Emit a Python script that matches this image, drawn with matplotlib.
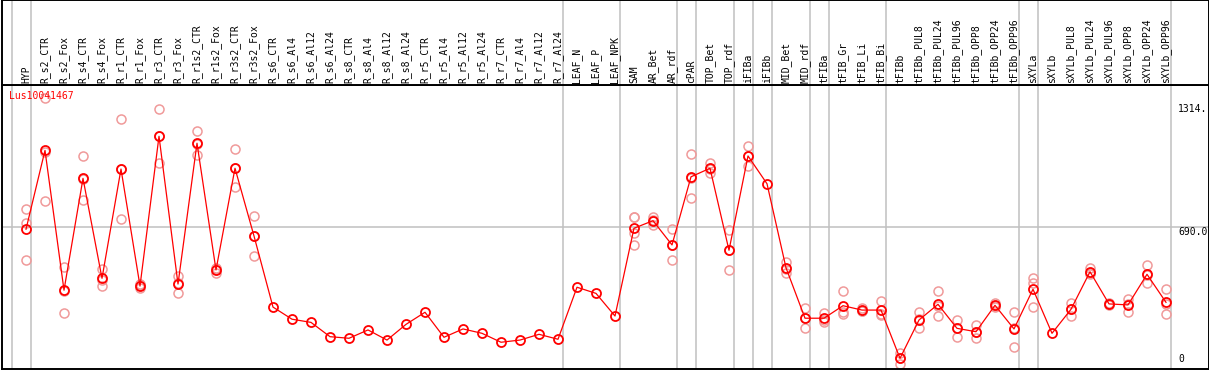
import matplotlib

matplotlib.use("Agg")
import matplotlib.pyplot as plt

gene_id = "Lus10041467"

sample_labels = [
    "HYP", "R_s2_CTR", "R_s2_Fox", "R_s4_CTR", "R_s4_Fox", "R_r1_CTR", "R_r1_Fox",
    "R_r3_CTR", "R_r3_Fox", "R_r1s2_CTR", "R_r1s2_Fox", "R_r3s2_CTR", "R_r3s2_Fox",
    "R_s6_CTR", "R_s6_Al4", "R_s6_Al12", "R_s6_Al24", "R_s8_CTR", "R_s8_Al4",
    "R_s8_Al12", "R_s8_Al24", "R_r5_CTR", "R_r5_Al4", "R_r5_Al12", "R_r5_Al24",
    "R_r7_CTR", "R_r7_Al4", "R_r7_Al12", "R_r7_Al24", "LEAF_N", "LEAF_P", "LEAF_NPK",
    "SAM", "AR_Bet", "AR_rdf", "cPAR", "TOP_Bet", "TOP_rdf", "iFIBa", "iFIBb",
    "MID_Bet", "MID_rdf", "tFIBa", "tFIB_Gr", "tFIB_Li", "tFIB_Bi", "tFIBb",
    "tFIBb_PUL8", "tFIBb_PUL24", "tFIBb_PUL96", "tFIBb_OPP8", "tFIBb_OPP24",
    "tFIBb_OPP96", "sXYLa", "sXYLb", "sXYLb_PUL8", "sXYLb_PUL24", "sXYLb_PUL96",
    "sXYLb_OPP8", "sXYLb_OPP24", "sXYLb_OPP96",
]

mean_values = [
    681, 1078, 374, 937, 434, 984, 395, 1149, 405, 1114, 476, 988, 647,
    289, 228, 212, 140, 132, 174, 123, 202, 263, 137, 179, 157, 112, 123, 152, 127,
    389, 358, 244,
    686, 724, 602, 945, 988, 575, 1050, 910, 487, 233,
    233, 296, 274, 274,
    31, 224, 303, 182, 165, 298, 179,
    379, 157, 278, 467, 305, 300, 454, 313,
]

replicate_values = [
    [783, 711, 526], [1340, 823, 1070], [492, 258, 372], [1050, 828, 933],
    [481, 395, 426], [1234, 733, 985], [403, 384, 398], [1286, 1013, 1148],
    [447, 358, 410], [1176, 1055, 1111], [487, 462, 479], [1083, 892, 989],
    [748, 546, 647],
    [], [], [], [], [], [], [], [], [], [], [], [], [], [], [], [],
    [], [], [],
    [741, 741, 664, 600], [744, 702, 726], [681, 525, 600], [1060, 837, 938],
    [1013, 966, 985], [677, 474, 574], [1100, 999, 1051], [], [518, 462, 481],
    [283, 182, 234],
    [261, 212, 226], [370, 266, 252], [283, 271, 268], [320, 249, 253],
    [56, 3, 34], [263, 182, 227], [370, 244, 295], [224, 140, 182],
    [199, 132, 164], [308, 291, 295], [266, 87, 184],
    [437, 412, 291], [], [311, 246, 277], [484, 462, 455], [311, 300, 304],
    [330, 266, 304], [501, 409, 452], [379, 254, 306],
]

# index of the last sample in each group (a grey separator follows it)
group_ends = [-1, 0, 28, 31, 34, 35, 37, 38, 39, 41, 42, 45, 52, 53, 60]

axis_labels = ["1314.", "690.0", "0"]
axis_values = [1314, 690, 0]

W, H = 1209, 370
FONT = "DejaVu Sans Mono"
GRID = "#c0c0c0"

fig = plt.figure(figsize=(W / 100, H / 100), dpi=100)

left = 1.5 / W
width = (1208.5 - 1.5) / W
ax = fig.add_axes([left, 1 / H, width, 284 / H])
head = fig.add_axes([left, (H - 85) / H, width, 85 / H], sharex=ax)

xlim = ((1.5 - 26) / 19, (1208.5 - 26) / 19)
ax.set_xlim(*xlim)
ax.set_ylim(-22.7, 1407.2)
head.set_ylim(0, 1)

for a in (ax, head):
    a.set_xticks([])
    a.set_yticks([])
    for s in a.spines.values():
        s.set_color("black")
        s.set_linewidth(1.4)

for g in group_ends:
    ax.axvline(g + 0.25, color=GRID, lw=1.1, zorder=1)
    head.axvline(g + 0.25, color=GRID, lw=1.1, zorder=1)
ax.axhline(690, color=GRID, lw=1.1, zorder=1)

rep_x, rep_y = [], []
for i, reps in enumerate(replicate_values):
    rep_x += [i] * len(reps)
    rep_y += reps
ax.plot(rep_x, rep_y, ls="none", marker="o", ms=6.5, mfc="none",
        mec="#f09a9a", mew=1.1, zorder=2)

xs = list(range(len(mean_values)))
ax.plot(xs, mean_values, color="red", lw=0.9, marker="o", ms=6.5,
        mfc="none", mec="red", mew=1.3, zorder=3)

for i, lab in enumerate(sample_labels):
    head.text(i, 0.02, lab, rotation=90, ha="center", va="bottom",
              fontsize=7, family=FONT, color="black")

ax.text(7.5 / W, 1 - 6 / 284, gene_id, transform=fig.transFigure if False else ax.transAxes,
        ha="left", va="top", fontsize=7, family=FONT, color="red", zorder=5)

for lab, v in zip(axis_labels, axis_values):
    if v == 0:
        va = "bottom"
    else:
        va = "top"
    ax.text((1178 - 1.5) / (1207), v, lab, transform=ax.get_yaxis_transform(),
            ha="left", va=va, fontsize=7, family=FONT, color="black", zorder=5)

fig.savefig("out.png", dpi=100)
